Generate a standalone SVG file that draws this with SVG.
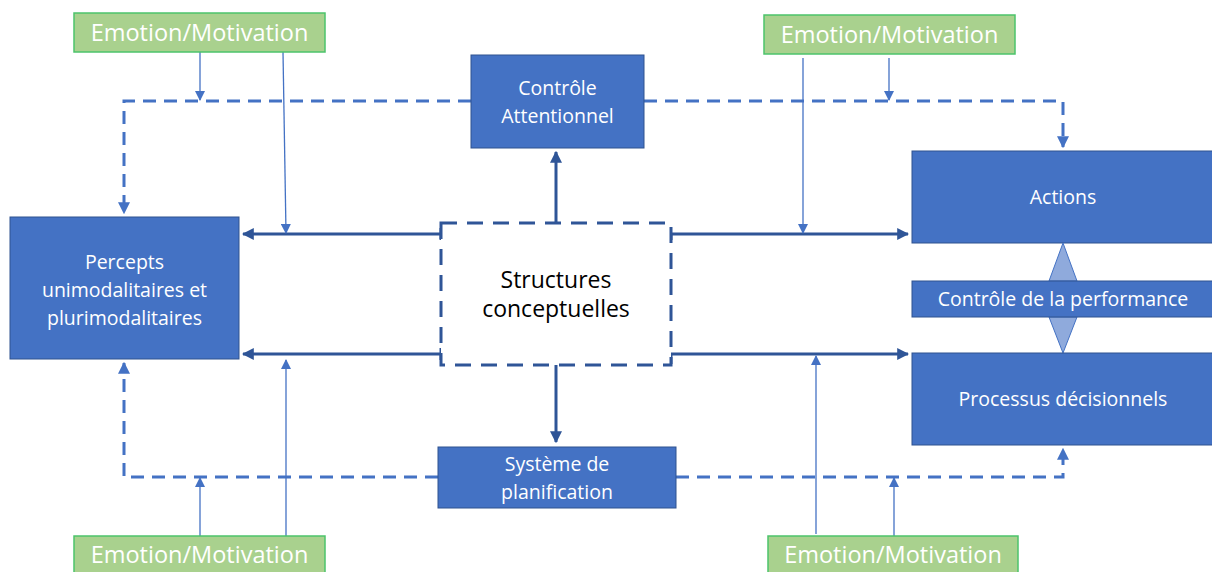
<svg xmlns="http://www.w3.org/2000/svg" width="1212" height="572" viewBox="0 0 1212 572">
<defs>
<style>
.box{fill:#4472c4;stroke:#2f528f;stroke-width:1}
.emo{fill:#a9d18e;stroke:#4cc36b;stroke-width:1.5}
.t{font-family:"Open Sans","Liberation Sans",sans-serif;fill:#ffffff;text-anchor:middle;font-size:19.5px}
.et{font-family:"Open Sans","Liberation Sans",sans-serif;fill:#ffffff;text-anchor:middle;font-size:23.5px}
.st{font-family:"Open Sans","Liberation Sans",sans-serif;fill:#000000;text-anchor:middle;font-size:23px}
.dark{fill:none;stroke:#2f5597;stroke-width:3}
.dash{fill:none;stroke:#4472c4;stroke-width:3;stroke-dasharray:13 8}
.thin{fill:none;stroke:#4472c4;stroke-width:1.3}
</style>
<marker id="ad" viewBox="0 0 10 10" refX="9" refY="5" markerWidth="4" markerHeight="4" orient="auto" markerUnits="strokeWidth"><path d="M0,0 L10,5 L0,10 z" fill="#2f5597"/></marker>
<marker id="ab" viewBox="0 0 10 10" refX="9" refY="5" markerWidth="4" markerHeight="4" orient="auto" markerUnits="strokeWidth"><path d="M0,0 L10,5 L0,10 z" fill="#4472c4"/></marker>
<marker id="at" viewBox="0 0 10 10" refX="9" refY="5" markerWidth="8" markerHeight="8" orient="auto" markerUnits="strokeWidth"><path d="M0,0 L10,5 L0,10 z" fill="#4472c4"/></marker>
</defs>

<g id="connectors">
<path class="dash" d="M471,101 H124 V213" marker-end="url(#ab)"/>
<path class="dash" d="M644,101 H1063 V147" marker-end="url(#ab)"/>
<path class="dash" d="M438,477 H124 V363" marker-end="url(#ab)"/>
<path class="dash" d="M676,477 H1063 V449" marker-end="url(#ab)"/>
<path class="dark" d="M441,234 H243" marker-end="url(#ad)"/>
<path class="dark" d="M441,228 V240"/>
<path class="dark" d="M441,354 H243" marker-end="url(#ad)"/>
<path class="dark" d="M441,348 V360"/>
<path class="dark" d="M671,240 V234 H908" marker-end="url(#ad)"/>
<path class="dark" d="M671,364 V354 H908" marker-end="url(#ad)"/>
<path class="dark" d="M556,223 V152" marker-end="url(#ad)"/>
<path class="dark" d="M556,365 V442" marker-end="url(#ad)"/>
<path class="thin" d="M200,52 V100" marker-end="url(#at)"/>
<path class="thin" d="M283,52 L286,233" marker-end="url(#at)"/>
<path class="thin" d="M803,58 V233" marker-end="url(#at)"/>
<path class="thin" d="M889,58 V100" marker-end="url(#at)"/>
<path class="thin" d="M200,536 V478" marker-end="url(#at)"/>
<path class="thin" d="M286,536 V360" marker-end="url(#at)"/>
<path class="thin" d="M816,534 V356" marker-end="url(#at)"/>
<path class="thin" d="M894,536 V478" marker-end="url(#at)"/>
</g>

<g id="emotion-tl"><rect class="emo" x="74" y="13" width="251" height="39"/><text class="et" x="199.5" y="41">Emotion/Motivation</text></g>
<g id="emotion-tr"><rect class="emo" x="764" y="15" width="251" height="39"/><text class="et" x="889.5" y="43">Emotion/Motivation</text></g>
<g id="emotion-bl"><rect class="emo" x="74" y="536" width="251" height="40"/><text class="et" x="199.5" y="563">Emotion/Motivation</text></g>
<g id="emotion-br"><rect class="emo" x="768" y="536" width="250" height="40"/><text class="et" x="893" y="563">Emotion/Motivation</text></g>

<g id="controle-attentionnel"><rect class="box" x="471" y="55" width="173" height="93"/><text class="t" x="557.5" y="95">Contrôle</text><text class="t" x="557.5" y="123">Attentionnel</text></g>

<g id="percepts"><rect class="box" x="10" y="217" width="229" height="142"/><text class="t" x="124.5" y="269">Percepts</text><text class="t" x="124.5" y="297">unimodalitaires et</text><text class="t" x="124.5" y="325">plurimodalitaires</text></g>

<g id="structures"><rect x="441" y="223" width="230" height="142" fill="#ffffff" stroke="#2f5597" stroke-width="3" stroke-dasharray="16 10"/><text class="st" x="556" y="288">Structures</text><text class="st" x="556" y="317">conceptuelles</text></g>

<g id="systeme"><rect class="box" x="438" y="447" width="238" height="61"/><text class="t" x="557" y="471">Système de</text><text class="t" x="557" y="499">planification</text></g>

<g id="actions"><rect class="box" x="912" y="151" width="302" height="92"/><text class="t" x="1063" y="204">Actions</text></g>

<g id="performance"><path d="M1063,243 L1077,281 L1049,281 Z M1049,317 L1077,317 L1063,353 Z" fill="#8faadc" stroke="#4472c4" stroke-width="1"/><rect class="box" x="912" y="281" width="302" height="36"/><text class="t" x="1063" y="306">Contrôle de la performance</text></g>

<g id="processus"><rect class="box" x="912" y="353" width="302" height="92"/><text class="t" x="1063" y="406">Processus décisionnels</text></g>
</svg>
